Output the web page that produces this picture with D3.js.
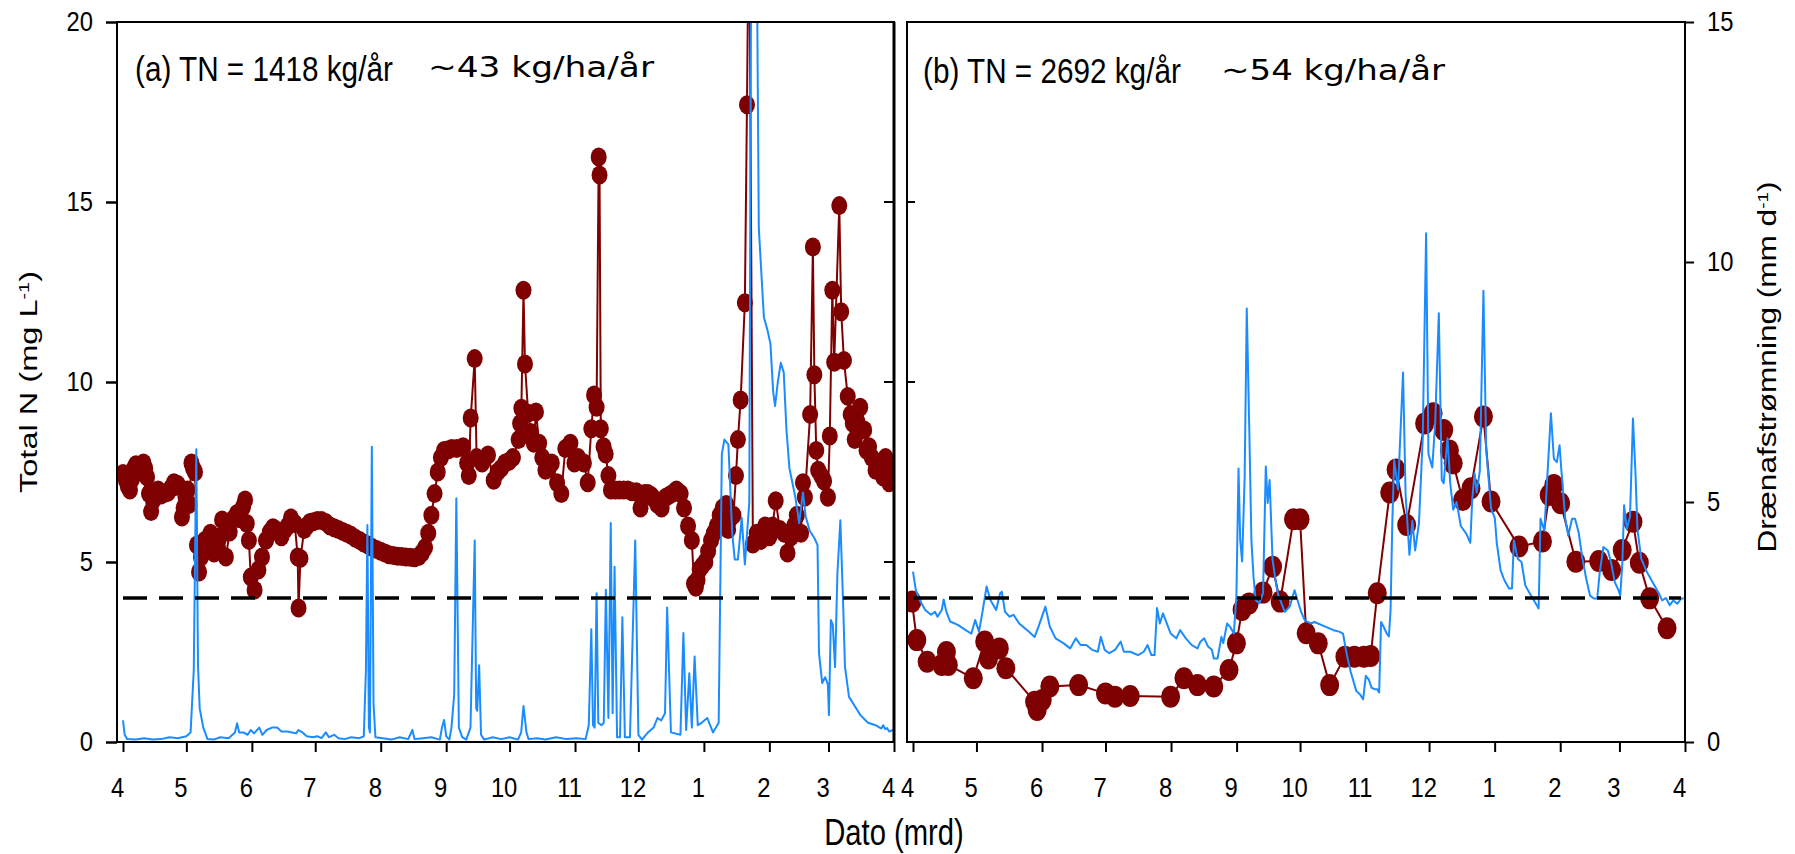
<!DOCTYPE html>
<html>
<head>
<meta charset="utf-8">
<script src="https://cdn.jsdelivr.net/npm/d3@7/dist/d3.min.js"></script>
<style>
  html, body { margin: 0; padding: 0; background: #fff; }
  svg { display: block; }
</style>
</head>
<body>
<div id="chart"></div>
<script>
// panel texts
const panelTitles = ["(a) TN = 1418 kg/år", "(b) TN = 2692 kg/år"];
const areaTitles = ["~43 kg/ha/år", "~54 kg/ha/år"];
const yTicksTN = [0, 5, 10, 15, 20];
const yTicksQ = [0, 5, 10, 15];
const innerTicksTN = [5, 10, 15];
const tnLimit = 4;

// [days after 1 April, value]
const tnA = [[0,7.46],[1.4,7.27],[2.3,7.1],[3.3,7.0],[4.2,7.3],[5.2,7.6],[6.1,7.7],[7.1,7.65],[8.4,7.5],[9.7,7.75],
  [10.5,7.6],[11.4,7.36],[12.3,6.9],[13.3,6.4],[14.2,6.7],[15.2,6.94],[16.6,7.0],[18,6.86],[19.6,6.9],[21.3,6.94],
  [22.7,7.05],[24.1,7.2],[25,7.1],[26,7.15],[27.9,6.25],[28.7,6.5],[29.6,6.8],[30.5,7.0],[31.4,6.6],[32.4,7.75],
  [33.2,7.6],[34.1,7.5],[35,5.47],[36,4.72],
  [36.9,5.14],[38.7,5.6],[40,5.5],[41.4,5.8],[43.1,5.25],[44.5,5.5],[45.9,5.7],[46.9,6.17],[48.7,5.14],[50.5,5.83],[52.3,6.2],[54,6.35],
  [55.5,6.2],[56.8,6.53],[57.8,6.72],[58.6,6.07],[59.6,5.6],[60.5,4.58],[62.3,4.22],[64.1,4.78],[65.8,5.14],[67.7,5.6],[69.5,5.83],
  [71,5.95],[72.2,5.9],[73.6,5.85],[75,5.7],[76.7,5.9],[78,6.0],[79.5,6.22],[81.3,6.07],[82.7,5.14],[83.1,3.72],[84,5.1],[85.8,5.9],[87,6.0],[88.5,6.1],
  [90,6.12],[92,6.15],[94,6.15],[96,6.1],[98,6.0],[100,5.95],[102,5.9],[104,5.85],[106,5.8],[108,5.74],
  [110,5.66],[112,5.6],[114,5.53],[116,5.47],[118,5.4],[120,5.35],[122,5.3],[124,5.25],[126,5.2],[128,5.18],
  [130,5.16],[132,5.15],[134,5.14],[136,5.13],[138,5.12],[140,5.15],[141.5,5.25],[143,5.4],[144.5,5.8],[146,6.3],
  [147.5,6.9],[149,7.5],[150.5,7.9],[152,8.1],[154,8.12],[155.6,8.15],[158,8.15],[161,8.2],[162.9,7.75],[163.7,7.4],
  [164.6,9.0],[166.5,10.65],[167.4,7.9],[170,7.75],[172.8,7.97],[175.5,7.27],[177.3,7.5],[179,7.6],[180.9,7.75],[182.8,7.8],[184.6,7.9],[187.3,8.4],
  [188,8.85],[188.6,9.27],[189.6,12.55],[190.3,10.5],[191.8,9.13],[193,8.6],[194.5,8.3],[195.5,9.17],[197,8.3],[198.5,7.9],
  [200,7.55],[201.5,7.6],[203,7.75],[205.5,7.2],[207.5,6.9],[209.4,8.15],[211.8,8.3],[213.7,7.75],[215.5,7.9],[218.2,7.75],[220,7.2],
  [221.7,8.7],[223,9.64],[224.2,9.3],[225.2,16.25],[225.6,15.75],[226.2,8.7],[227.5,8.2],[228.5,8.0],[229.8,7.4],[231,7.0],[233,7.0],[235,7.0],
  [237,7.0],[239,7.0],[241,6.95],[243,6.95],[245,6.5],[247,6.9],[248.5,6.9],[250,6.85],[251.5,6.75],[253,6.6],[255,6.5],[257,6.8],[258.5,6.85],[260,6.9],[262,7.0],
  [264,6.9],[265.6,6.5],[267.5,6.0],[269.3,5.6],[270.3,4.4],[271.2,4.3],[272,4.5],[273,4.8],[274.3,4.9],[275.7,5.0],[277,5.3],[278.4,5.6],[279.7,5.8],[281.1,6.0],[282.5,6.3],[283.9,6.5],
  [285.6,6.6],[286.5,5.9],[287.4,6.2],[289,6.3],[290.2,7.4],[291.1,8.4],[292.4,9.5],[294.4,12.2],[295.4,17.7],[296.4,24],
  [298.2,5.5],[300,5.8],[302,5.6],[304,6.0],[306,5.7],[307.5,6.0],[309,6.7],[311,5.9],[313,5.8],[314.6,5.25],[316.3,5.7],
  [317.7,6.0],[319,6.3],[321,5.8],[321.9,7.2],[322.8,6.8],[325.3,9.1],[326.6,13.75],[327.3,10.2],[328.2,8.1],[329.1,7.55],[330.5,7.4],[331.9,7.25],
  [333.7,6.8],[334.6,8.5],[335.8,12.55],[336.7,10.55],[339.1,14.9],[340,11.95],[341.3,10.6],[343.1,9.6],[344.5,9.1],[345.5,8.85],
  [346.4,8.4],[347.7,8.9],[349,9.3],[350.9,8.67],[352,8.1],[353.2,8.2],[354.5,7.9],[356.3,7.55],[358,7.7],[359.9,7.36],[361,7.9],[362.7,7.2],[364.5,7.6]];

const qA = [[0,0.45],[0.8,0.15],[2,0.06],[6,0.05],[10,0.08],[14,0.05],[18,0.06],[22,0.1],[26,0.08],[30,0.12],
  [32,0.2],[33.5,1.5],[34.7,6.1],[35.5,1.6],[36.3,0.7],[38,0.3],[40,0.06],[43,0.05],[46,0.1],[50,0.08],
  [53,0.2],[54,0.39],[55,0.2],[57,0.2],[59,0.15],[60.5,0.25],[62,0.18],[64.5,0.3],[66,0.15],[68,0.25],
  [70.5,0.3],[73,0.3],[75,0.22],[78,0.22],[80,0.2],[82,0.18],[83,0.25],[85,0.2],[87,0.12],[90,0.1],
  [92,0.12],[94,0.08],[96,0.2],[97.5,0.1],[100,0.15],[102,0.08],[105,0.06],[108,0.1],[112,0.08],[114,0.12],
  [115,1.5],[115.7,4.52],[116.4,0.3],[116.9,0.2],[117.8,6.15],[118.6,0.8],[119.5,0.1],[123,0.08],[127,0.05],[131,0.1],
  [135,0.06],[137,0.25],[138,0.06],[142,0.08],[146,0.1],[150,0.05],[151,0.3],[152,0.46],[153,0.12],[154.5,0.05],
  [155.5,0.3],[156.8,1.0],[157.8,5.08],[159,0.3],[160.6,0.1],[162.5,0.05],[164.5,0.3],[166.5,4.2],[167.2,0.7],[167.7,0.65],
  [168.6,1.6],[169.5,0.15],[171,0.05],[175,0.1],[179,0.06],[183,0.1],[187,0.05],[188.5,0.2],[189.6,0.75],[191,0.2],
  [192,0.06],[196,0.08],[200,0.05],[205,0.1],[210,0.06],[215,0.08],[219,0.06],[220.5,0.35],[221.7,2.35],[222.5,0.35],
  [223.3,0.3],[224.2,3.1],[225,0.4],[226.5,0.35],[227.6,0.4],[228.6,3.17],[229.8,0.5],[230.9,4.56],[231.8,0.6],[232.7,3.65],
  [233.9,0.1],[235.3,0.1],[236.4,2.6],[237.6,0.1],[240,0.1],[242.5,4.2],[244,0.15],[245.7,0.05],[248.5,0.2],[251.2,0.3],
  [253,0.5],[254.8,0.45],[256.6,0.6],[257.6,2.8],[259.4,0.2],[263.9,0.15],[265.3,2.27],[266.6,0.25],[268.1,1.43],[269.3,0.3],
  [270.6,1.78],[272.1,0.35],[273.9,0.4],[276.6,0.5],[279.3,0.2],[282,0.4],[283.5,6.0],[284.7,6.3],[286.6,6.2],[288.4,4.35],
  [289.6,3.8],[291.1,3.8],[292.9,4.67],[294.4,3.7],[296.5,5.0],[297.5,18],[299.8,18],[301,10.7],[303.4,8.85],[305,8.6],
  [306.5,8.3],[307.8,7.3],[308.7,7.0],[310,7.5],[311.4,7.9],[312.8,7.7],[314.1,6.5],[315.5,5.7],[318.3,5.1],[320.1,4.56],
  [321.9,5.2],[323.2,4.7],[325.1,4.4],[327.3,4.25],[328.8,4.1],[329.5,1.85],[331,1.23],[332.4,1.35],[333.7,1.2],[334.2,0.56],
  [335.1,2.54],[336,2.45],[337.1,1.56],[338.2,3.5],[339.6,4.62],[340.9,2.9],[341.8,1.56],[343.7,0.94],[346.4,0.75],[349.1,0.56],
  [352.7,0.4],[356.3,0.35],[359,0.28],[359.9,0.35],[360.8,0.27],[361.7,0.29],[362.7,0.22],[364.5,0.25]];

const tnB = [[-0.5,3.9],[1.8,2.83],[6.7,2.23],[13.6,2.14],[15.8,2.5],[16.7,2.14],[28.5,1.77],[33.9,2.79],[35.7,2.32],[40.8,2.6],
  [43.9,2.05],[57.5,1.12],[58.7,0.89],[61.1,1.17],[64.7,1.54],[78.3,1.58],[91,1.35],[95.5,1.26],[102.7,1.28],[121.8,1.26],
  [128.1,1.77],[134.5,1.58],[142.2,1.54],[149.4,2.0],[152.9,2.74],[155.6,3.67],[158.9,3.85],[165.5,4.15],[170,4.87],[173.6,3.9],
  [179.9,6.19],[183,6.19],[185.9,3.02],[191.6,2.74],[197,1.58],[204.2,2.37],[208.7,2.37],[213.2,2.37],[216.4,2.39],[219.5,4.13],
  [225.4,6.93],[228.4,7.57],[233.4,6.03],[241.9,8.85],[245.9,9.13],[250.9,8.67],[253.6,8.1],[255.4,7.74],[259.9,6.72],[263.8,7.05],
  [269.7,9.04],[273.3,6.68],[286.5,5.43],[297.6,5.57],[300.8,6.86],[303,7.14],[306.2,6.63],[313.4,5.01],[324.2,5.03],[330.3,4.78],
  [335.3,5.33],[340.4,6.12],[343.4,4.98],[348.3,3.99],[356.5,3.16]];

const qB = [[0,3.55],[1.3,3.17],[3.1,2.96],[5.8,2.75],[8.5,2.65],[10.4,2.71],[11.6,2.61],[13.6,2.75],[14.5,2.97],[15.8,2.71],
  [17.6,2.51],[21.2,2.44],[24.9,2.33],[27.6,2.26],[29.4,2.54],[31.2,2.3],[33,2.75],[34.8,3.24],[36.6,2.96],[39.3,2.75],
  [41.2,3.1],[42,3.13],[43.5,2.71],[45.7,2.61],[47.5,2.65],[50.2,2.47],[54.7,2.3],[57.5,2.19],[59.3,2.4],[62.6,2.82],
  [64.7,2.4],[67.4,2.16],[71.1,2.06],[74.3,1.95],[77,2.16],[79.2,2.02],[81.9,2.02],[84.7,1.92],[87.4,1.88],[88.8,2.19],
  [90.6,1.92],[92.8,1.85],[95.5,1.92],[98.2,2.09],[99.7,1.88],[102.7,1.88],[106.4,1.81],[109.1,1.88],[110.9,2.02],[112.7,1.81],
  [114.2,1.81],[115.4,2.79],[116.7,2.47],[118.2,2.68],[120,2.47],[121.8,2.26],[124.5,2.16],[126.3,2.33],[129,2.16],[131.8,2.02],
  [134.5,1.95],[135.9,2.09],[137.7,2.16],[139.5,1.99],[141.3,1.92],[142.2,1.74],[144,1.74],[145.8,2.19],[146.7,2.06],[148.5,2.47],
  [149.9,2.4],[151.7,2.26],[152.9,3.03],[153.9,5.7],[154.7,4.21],[155.6,3.76],[156.8,5.5],[157.8,9.03],[159,6.5],[160,4.2],
  [161,3.44],[162,2.96],[163.7,2.89],[165.5,3.1],[166.8,5.74],[167.7,4.98],[168.6,5.46],[170,3.79],[171.8,3.26],[172.7,3.06],
  [175.8,2.71],[178.1,2.82],[180.4,3.16],[183.5,2.71],[185.3,2.53],[188,2.47],[189.8,2.5],[195.2,2.4],[198.8,2.33],[201.5,2.3],
  [203.3,2.26],[205.1,1.82],[206.9,1.47],[209.6,1.06],[211.4,0.99],[212.8,0.89],[214.1,1.38],[215.5,1.3],[216.8,1.13],[218.2,1.1],
  [219.5,1.1],[220.4,1.03],[221.3,2.5],[222.5,2.4],[224,2.26],[225,2.2],[225.8,2.75],[226.6,4.55],[227.5,5.88],[229.3,5.26],
  [231.7,7.7],[232.9,5.15],[234.7,3.9],[236.1,4.61],[237.4,3.99],[239.2,4.55],[241,6.33],[242.6,10.6],[243.7,6.0],[245.5,5.72],
  [246.9,6.65],[248.6,8.93],[250,5.46],[250.9,5.39],[252.7,6.33],[254,5.4],[255.4,4.84],[257,5.0],[259,4.5],[261.7,4.33],
  [263.5,4.15],[264.4,5.05],[265.5,5.6],[266.5,5.2],[268,5.65],[269.7,9.4],[271,6.1],[273.3,4.87],[275.1,4.66],[276,4.15],
  [277.8,3.58],[279.6,3.37],[281.8,3.2],[283.2,3.2],[284.1,4.2],[285.9,3.82],[287.7,3.75],[289.5,3.26],[291.3,3.12],[293.6,2.95],
  [295.8,2.78],[296.7,4.65],[298.5,4.4],[299.8,5.44],[301.6,6.85],[303,5.9],[304.4,5.83],[305.7,6.18],[306.5,5.69],[308.4,4.65],
  [309.8,4.3],[311.6,4.65],[313,4.65],[314.7,4.37],[316.5,3.82],[318.3,3.4],[320.1,3.05],[321.9,2.99],[323.5,2.99],[324.6,3.5],
  [326.4,4.06],[328.5,3.99],[330,3.75],[331.8,3.33],[333.6,3.16],[334.4,3.05],[335.4,3.75],[336.2,4.93],[337.5,4.44],[339,4.7],
  [340.4,6.74],[341.6,5.58],[342.5,4.44],[344.3,3.82],[347,3.54],[349.7,3.33],[352.4,3.12],[354.2,2.95],[356,3.0],[357.8,2.85],
  [359.5,2.95],[361.4,2.88],[363.2,2.99],[364.4,2.99]];

const width = 1795, height = 854;
const plotTop = 22, plotBottom = 742;
const sans = '"Liberation Sans", Arial, sans-serif';
const tnColor = "#7f0000", qColor = "#1a8cff";

const svg = d3.select("#chart").append("svg")
  .attr("width", width).attr("height", height)
  .attr("viewBox", [0, 0, width, height]);

const yTN = d3.scaleLinear().domain([0, 20]).range([plotBottom, plotTop]);
const yQ = d3.scaleLinear().domain([0, 15]).range([plotBottom, plotTop]);

const panels = [
  {id: "a", start: Date.UTC(2013, 3, 1), left: 117, right: 894, x0: 123, x1: 894, tn: tnA, q: qA, rx: 8, ry: 9.5,
   title: panelTitles[0], area: areaTitles[0], tx: 135, ty: 81, tsx: 0.825, ax: 428, ay: 77, alen: 226},
  {id: "b", start: Date.UTC(2014, 3, 1), left: 907, right: 1685, x0: 913, x1: 1685, tn: tnB, q: qB, rx: 9.5, ry: 11,
   title: panelTitles[1], area: areaTitles[1], tx: 923, ty: 83, tsx: 0.825, ax: 1221, ay: 80, alen: 224}
];

panels.forEach(p => {
  const startDate = new Date(p.start);
  const endDate = d3.utcYear.offset(startDate, 1);
  const x = d3.scaleUtc().domain([startDate, endDate]).range([p.x0, p.x1]);
  const toDate = d => new Date(p.start + d * 864e5);

  const g = svg.append("g");

  svg.append("clipPath").attr("id", "clip-" + p.id)
    .append("rect")
    .attr("x", p.left).attr("y", plotTop)
    .attr("width", p.right - p.left).attr("height", plotBottom - plotTop);

  const plot = g.append("g").attr("clip-path", `url(#clip-${p.id})`);

  // TN line + dots
  const tnLine = d3.line().x(d => x(toDate(d[0]))).y(d => yTN(d[1]));
  plot.append("path")
    .datum(p.tn)
    .attr("fill", "none")
    .attr("stroke", tnColor)
    .attr("stroke-width", 2)
    .attr("d", tnLine);

  plot.selectAll(".dot")
    .data(p.tn)
    .join("ellipse")
    .attr("cx", d => x(toDate(d[0])))
    .attr("cy", d => yTN(d[1]))
    .attr("rx", p.rx)
    .attr("ry", p.ry)
    .attr("fill", tnColor);

  // drainage flow
  const qLine = d3.line().x(d => x(toDate(d[0]))).y(d => yQ(d[1]));
  plot.append("path")
    .datum(p.q)
    .attr("fill", "none")
    .attr("stroke", qColor)
    .attr("stroke-width", 2)
    .attr("stroke-linejoin", "round")
    .attr("d", qLine);

  // 4 mg/L limit
  g.append("line")
    .attr("x1", x(startDate)).attr("x2", p.right - 4)
    .attr("y1", yTN(tnLimit)).attr("y2", yTN(tnLimit))
    .attr("stroke", "#000")
    .attr("stroke-width", 3.5)
    .attr("stroke-dasharray", "24 12");

  // frame
  g.append("rect")
    .attr("x", p.left).attr("y", plotTop)
    .attr("width", p.right - p.left).attr("height", plotBottom - plotTop)
    .attr("fill", "none")
    .attr("stroke", "#000")
    .attr("stroke-width", 2);

  // x axis
  const xAxis = d3.axisBottom(x)
    .tickValues(d3.utcMonth.range(startDate, d3.utcDay.offset(endDate, 1)))
    .tickFormat(d3.utcFormat("%-m"))
    .tickSize(10)
    .tickPadding(25);
  const gx = g.append("g")
    .attr("transform", `translate(0,${plotBottom})`)
    .call(xAxis);
  gx.select(".domain").remove();
  gx.selectAll(".tick line").attr("stroke-width", 2);
  gx.selectAll("text")
    .attr("dx", -7)
    .attr("transform", "scale(0.85,1)")
    .attr("font-family", sans)
    .attr("font-size", 28)
    .attr("fill", "#000");

  // title texts
  g.append("text")
    .attr("transform", `translate(${p.tx},${p.ty}) scale(${p.tsx},1)`)
    .attr("font-family", sans)
    .attr("font-size", 36)
    .text(p.title);
  g.append("text")
    .attr("x", p.ax).attr("y", p.ay)
    .attr("font-family", "DejaVu Sans, sans-serif")
    .attr("font-size", 29)
    .attr("textLength", p.alen)
    .attr("lengthAdjust", "spacingAndGlyphs")
    .text(p.area);
});

// left TN axis
const gyL = svg.append("g")
  .attr("transform", "translate(117,0)")
  .call(d3.axisLeft(yTN).tickValues(yTicksTN).tickSize(11).tickPadding(13));
gyL.select(".domain").remove();
gyL.selectAll(".tick line").attr("stroke-width", 2.5);
gyL.selectAll("text")
  .attr("x", null)
  .attr("transform", "translate(-24,0) scale(0.85,1)")
  .attr("font-family", sans).attr("font-size", 28).attr("fill", "#000");

// inner TN ticks on the middle edges
svg.append("g").selectAll("line")
  .data(innerTicksTN)
  .join("line")
  .attr("x1", 884).attr("x2", 894)
  .attr("y1", d => yTN(d)).attr("y2", d => yTN(d))
  .attr("stroke", "#000").attr("stroke-width", 2);
svg.append("g").selectAll("line")
  .data(innerTicksTN)
  .join("line")
  .attr("x1", 907).attr("x2", 915)
  .attr("y1", d => yTN(d)).attr("y2", d => yTN(d))
  .attr("stroke", "#000").attr("stroke-width", 2);

// thicker right edge of panel a
svg.append("line")
  .attr("x1", 894).attr("x2", 894).attr("y1", plotTop).attr("y2", plotBottom)
  .attr("stroke", "#000").attr("stroke-width", 3);

// right discharge axis
const gyR = svg.append("g")
  .attr("transform", "translate(1685,0)")
  .call(d3.axisRight(yQ).tickValues(yTicksQ).tickSize(9).tickPadding(13));
gyR.select(".domain").remove();
gyR.selectAll(".tick line").attr("stroke-width", 2);
gyR.selectAll("text")
  .attr("x", null)
  .attr("transform", "translate(22,0) scale(0.85,1)")
  .attr("font-family", sans).attr("font-size", 28).attr("fill", "#000");

// axis titles
const yLabL = svg.append("text")
  .attr("transform", "translate(37,382) rotate(-90)")
  .attr("text-anchor", "middle")
  .attr("font-family", sans)
  .attr("font-size", 23)
  .attr("textLength", 222)
  .attr("lengthAdjust", "spacingAndGlyphs");
yLabL.append("tspan").text("Total N (mg L");
yLabL.append("tspan").attr("baseline-shift", "super").attr("font-size", 14).text("-1");
yLabL.append("tspan").text(")");

const yLabR = svg.append("text")
  .attr("transform", "translate(1776,367) rotate(-90)")
  .attr("text-anchor", "middle")
  .attr("font-family", sans)
  .attr("font-size", 25)
  .attr("textLength", 371)
  .attr("lengthAdjust", "spacingAndGlyphs");
yLabR.append("tspan").text("Drænafstrømning (mm d");
yLabR.append("tspan").attr("baseline-shift", "super").attr("font-size", 15).text("-1");
yLabR.append("tspan").text(")");

svg.append("text")
  .attr("transform", "translate(894,845) scale(0.79,1)")
  .attr("text-anchor", "middle")
  .attr("font-family", sans)
  .attr("font-size", 37)
  .text("Dato (mrd)");
</script>
</body>
</html>
